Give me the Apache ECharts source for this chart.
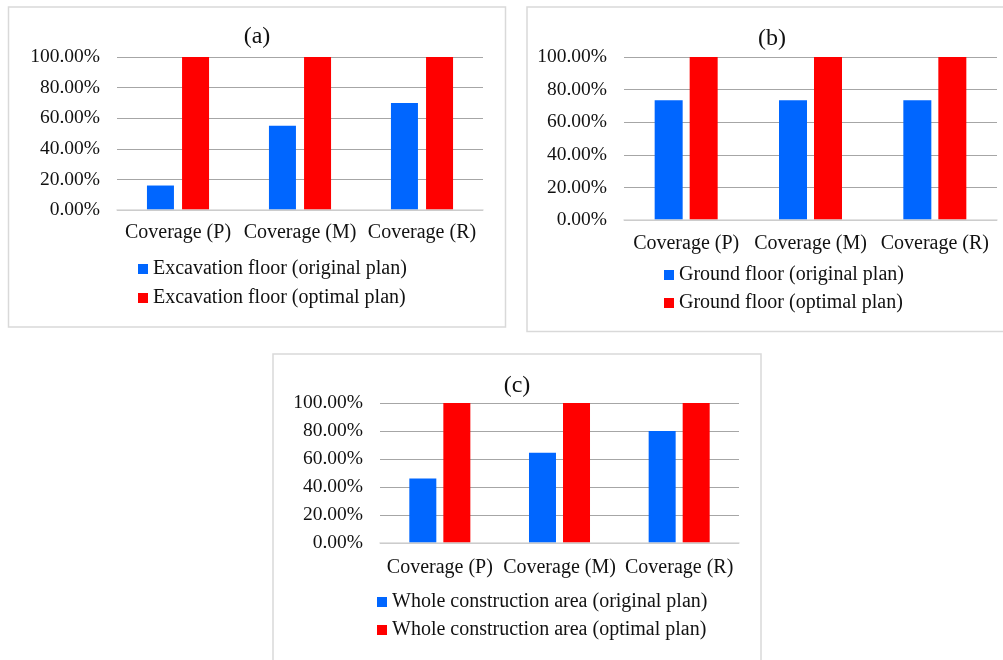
<!DOCTYPE html>
<html>
<head>
<meta charset="utf-8">
<script src="https://cdn.jsdelivr.net/npm/echarts@6/dist/echarts.min.js"></script>
<style>
  html, body { margin: 0; padding: 0; background: #fff; }
  #chart { width: 1003px; height: 660px; }
</style>
</head>
<body>
<div id="chart"></div>
<script>
// ---- data ----
const categories = ['Coverage (P)', 'Coverage (M)', 'Coverage (R)'];
const panelTitles = ['(a)', '(b)', '(c)'];
const excavationOriginal = [0.16, 0.55, 0.70];
const excavationOptimal = [1.0, 1.0, 1.0];
const groundOriginal = [0.735, 0.735, 0.735];
const groundOptimal = [1.0, 1.0, 1.0];
const wholeOriginal = [0.46, 0.645, 0.80];
const wholeOptimal = [1.0, 1.0, 1.0];
const seriesNames = [
  ['Excavation floor (original plan)', 'Excavation floor (optimal plan)'],
  ['Ground floor (original plan)', 'Ground floor (optimal plan)'],
  ['Whole construction area (original plan)', 'Whole construction area (optimal plan)']
];
const yTicks = { min: 0, max: 1, interval: 0.2 };

// ---- layout / style ----
const FONT = '"Liberation Serif", "Times New Roman", serif';
const BLUE = '#0066FF';
const RED = '#FF0000';
const TXT = '#111111';

const panels = [
  { grid: { left: 117, top: 57, width: 366, height: 153 }, title: { x: 257, y: 25 }, legend: { left: 138, top: 259, gap: 9 }, barWidth: 27, barGap: '30%', labelMargin: 13,
    data: [excavationOriginal, excavationOptimal] },
  { grid: { left: 624, top: 57, width: 373, height: 163 }, title: { x: 772, y: 27 }, legend: { left: 664, top: 265, gap: 8 }, barWidth: 28, barGap: '25%', labelMargin: 14,
    data: [groundOriginal, groundOptimal] },
  { grid: { left: 380, top: 403, width: 359, height: 140 }, title: { x: 517, y: 374 }, legend: { left: 377, top: 592, gap: 8 }, barWidth: 27, barGap: '26%', labelMargin: 15,
    data: [wholeOriginal, wholeOptimal] }
];

const option = {
  animation: false,
  backgroundColor: '#ffffff',
  textStyle: { fontFamily: FONT },
  title: panels.map((p, i) => ({
    text: panelTitles[i], left: p.title.x, top: p.title.y, textAlign: 'center', padding: 0,
    textStyle: { fontFamily: FONT, fontSize: 24, fontWeight: 'normal', color: TXT }
  })),
  legend: panels.map((p, i) => ({
    orient: 'vertical', left: p.legend.left, top: p.legend.top, itemGap: p.legend.gap, padding: 0,
    itemWidth: 10, itemHeight: 10, itemTextGap: 5, icon: 'rect',
    data: seriesNames[i],
    textStyle: { fontFamily: FONT, fontSize: 20, color: TXT }
  })),
  grid: panels.map(p => Object.assign({ containLabel: false }, p.grid)),
  xAxis: panels.map((p, i) => ({
    type: 'category', gridIndex: i, data: categories,
    axisLine: { show: true, lineStyle: { color: '#d9d9d9', width: 1.5 } },
    axisTick: { show: false },
    axisLabel: { fontFamily: FONT, fontSize: 20, color: TXT, margin: p.labelMargin, interval: 0 },
    z: 5
  })),
  yAxis: panels.map((p, i) => ({
    type: 'value', gridIndex: i, min: yTicks.min, max: yTicks.max, interval: yTicks.interval,
    axisLine: { show: false }, axisTick: { show: false },
    splitLine: { show: true, lineStyle: { color: '#a6a6a6', width: 1 } },
    axisLabel: { fontFamily: FONT, fontSize: 19.5, color: TXT, margin: 17,
      formatter: v => (v * 100).toFixed(2) + '%' }
  })),
  series: [],
  graphic: [
    { type: 'rect', shape: { x: 8.5, y: 7, width: 497, height: 320 }, style: { fill: 'none', stroke: '#d9d9d9', lineWidth: 1.5 }, silent: true },
    { type: 'rect', shape: { x: 527, y: 7, width: 490, height: 324.5 }, style: { fill: 'none', stroke: '#d9d9d9', lineWidth: 1.5 }, silent: true },
    { type: 'rect', shape: { x: 273, y: 354, width: 488, height: 330 }, style: { fill: 'none', stroke: '#d9d9d9', lineWidth: 1.5 }, silent: true }
  ]
};

panels.forEach((p, i) => {
  [BLUE, RED].forEach((c, k) => {
    option.series.push({
      type: 'bar', name: seriesNames[i][k], xAxisIndex: i, yAxisIndex: i,
      data: p.data[k], barWidth: p.barWidth, barGap: p.barGap,
      itemStyle: { color: c }
    });
  });
});

const chart = echarts.init(document.getElementById('chart'), null, { renderer: 'canvas' });
chart.setOption(option);
</script>
</body>
</html>
